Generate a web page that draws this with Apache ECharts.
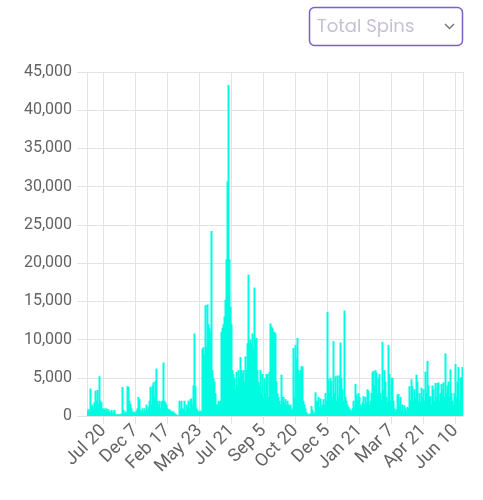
<!DOCTYPE html>
<html>
<head>
<meta charset="utf-8">
<script src="https://cdn.jsdelivr.net/npm/echarts@6/dist/echarts.min.js"></script>
<style>
html,body{margin:0;padding:0;background:#fff;}
#chart{width:483px;height:500px;}
</style>
</head>
<body>
<div id="chart"></div>
<script>
// Tick labels shown on the x axis (every 32nd category starting at 16)
const tickLabels = ['Jul 20','Dec 7','Feb 17','May 23','Jul 21','Sep 5','Oct 20','Dec 5','Jan 21','Mar 7','Apr 21','Jun 10'];
const firstTickIndex = 16;
const tickStep = 32;

// Total spins per period
const spins = [
  700,900,600,3600,1200,1500,1000,1800,3300,2000,3400,1600,5200,2000,1800,1000,
  900,1000,800,1000,700,900,600,500,800,400,600,800,300,200,250,200,
  200,300,200,3800,800,300,600,400,3900,3800,2000,1600,1000,500,600,400,
  500,700,1000,2500,2200,800,600,1000,500,1000,600,1500,800,1200,2000,3800,
  1500,4000,4400,2500,4600,6200,2000,1500,2000,1000,1900,2000,7000,2000,1800,1500,
  1000,800,900,600,700,500,600,400,300,200,100,100,2000,800,2000,1000,
  900,2000,600,1500,1200,2000,1000,2200,2300,1500,4000,10800,3900,1000,800,500,
  600,700,600,8800,9000,8000,14500,9000,14600,12000,11500,11000,24200,6000,5000,4500,
  3000,1500,1500,2000,1800,2000,11000,11500,12000,13000,15200,20500,30700,43300,20500,14300,
  12000,6000,5500,5000,3500,5800,4000,6000,5000,7700,6000,5500,6000,4500,7800,6000,
  9500,18500,9500,10000,9500,10800,9000,16800,10000,10200,6000,4500,4000,6000,3000,5500,
  2500,5000,3000,5500,5500,2500,5800,12100,11700,11500,11000,11000,10800,4500,3000,2500,
  2000,1500,5400,2500,2500,1800,2200,1500,2000,1500,1200,1500,800,1000,8900,2500,
  9300,7500,10200,6000,5500,6000,6500,6500,2000,1500,1000,500,300,200,300,300,
  1300,800,500,300,3100,2000,1800,2500,1200,2300,1000,1500,2200,1500,3000,2000,
  13600,4800,3000,5000,4600,2500,9800,3000,5200,2000,5300,2500,5300,9600,5000,3500,
  2000,13800,2500,2000,1500,1200,1000,800,600,1000,2000,1200,4200,2800,2000,3000,
  2500,1500,1200,1800,2600,1500,2500,1800,3500,3300,1500,2000,3000,5700,5900,4000,
  6000,5700,3000,5000,5500,3000,2000,9700,3500,6000,4500,2500,1800,9300,5500,2000,
  5000,5000,2000,1000,600,900,2800,2900,1500,2500,800,1500,600,1400,1000,800,
  1200,1000,3900,2000,4800,3900,2000,3500,2500,5400,4500,2000,3000,1800,3700,2500,
  3500,2000,5800,3000,7200,4000,2500,2600,1500,4000,3500,2000,4300,2500,4300,4400,
  2000,3000,4200,3500,4400,2500,8200,3000,4000,4500,2500,6100,3000,2000,1500,3000,
  6800,2500,4500,6400,2000,5000,5100,6400
];
const categories = spins.map((_, i) => String(i));

const yMax = 45000;
const yStep = 5000;

const gridColor = '#e3e3e3';
const labelColor = '#636363';
const barColor = '#00fbe0';

const isTick = (i) => i >= firstTickIndex && (i - firstTickIndex) % tickStep === 0;

const chart = echarts.init(document.getElementById('chart'), null, {renderer: 'canvas'});
chart.setOption({
  animation: false,
  backgroundColor: '#ffffff',
  grid: {left: 87, right: 20, top: 72, bottom: 84},
  xAxis: {
    type: 'category',
    data: categories,
    boundaryGap: true,
    axisLine: {show: true, lineStyle: {color: gridColor, width: 1}},
    axisTick: {show: true, length: 8, interval: (i) => isTick(i), alignWithLabel: true, lineStyle: {color: gridColor}},
    splitLine: {show: true, interval: (i) => isTick(i), lineStyle: {color: gridColor, width: 1}},
    axisLabel: {
      interval: (i) => isTick(i),
      rotate: 45,
      margin: 12,
      color: labelColor,
      fontFamily: 'Roboto',
      fontSize: 18,
      formatter: (v, i) => isTick(i) ? tickLabels[(i - firstTickIndex) / tickStep] : ''
    }
  },
  yAxis: {
    type: 'value',
    min: 0,
    max: yMax,
    interval: yStep,
    axisLine: {show: true, lineStyle: {color: gridColor}},
    axisTick: {show: true, length: 10, lineStyle: {color: gridColor}},
    splitLine: {show: true, lineStyle: {color: gridColor}},
    axisLabel: {
      margin: 15,
      color: labelColor,
      fontFamily: 'Roboto',
      fontSize: 16,
      formatter: (v) => v.toLocaleString('en-US')
    }
  },
  series: [{
    type: 'bar',
    data: spins,
    barWidth: 2,
    itemStyle: {color: barColor},
    emphasis: {disabled: true}
  }],
  graphic: [
    {type: 'rect', shape: {x: 309.5, y: 7.5, width: 153, height: 38, r: 5},
     style: {fill: '#ffffff', stroke: '#7d5fcf', lineWidth: 1.5}},
    {type: 'text', x: 317, y: 27,
     style: {text: 'Total Spins', fill: '#c6c0d4', fontSize: 18, fontFamily: 'Poppins, "Noto Sans", sans-serif', verticalAlign: 'middle'}},
    {type: 'polyline', shape: {points: [[445, 24], [449.5, 28.5], [454, 24]]},
     style: {stroke: '#7a7a7a', lineWidth: 1.5, fill: null}}
  ]
});
</script>
</body>
</html>
